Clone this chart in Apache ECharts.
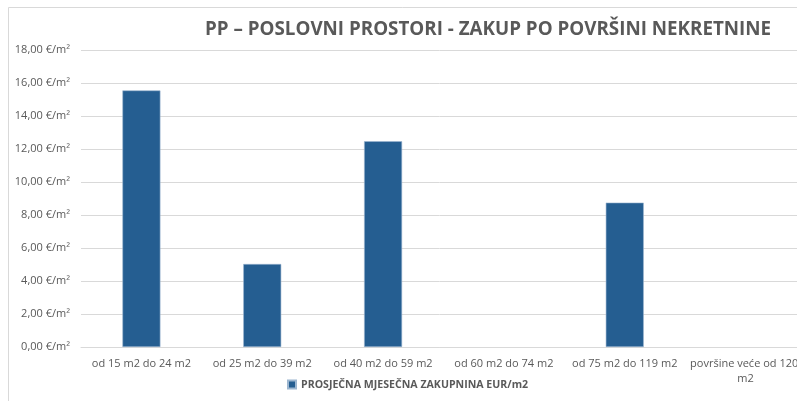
<!DOCTYPE html>
<html><head><meta charset="utf-8">
<script src="https://cdn.jsdelivr.net/npm/echarts@6/dist/echarts.min.js"></script>
<style>html,body{margin:0;padding:0;background:#fff}#c{width:797px;height:401px}</style>
</head><body><div id="c"></div>
<script>
const categories = ['od 15 m2 do 24 m2','od 25 m2 do 39 m2','od 40 m2 do 59 m2','od 60 m2 do 74 m2','od 75 m2 do 119 m2','površine veće od 120 m2'];
const values = [15.55, 5.03, 12.47, null, 8.75, null];
const seriesName = 'PROSJEČNA MJESEČNA ZAKUPNINA EUR/m2';
const titleText = 'PP – POSLOVNI PROSTORI - ZAKUP PO POVRŠINI NEKRETNINE';
const yMin = 0, yMax = 18, yStep = 2;

const chart = echarts.init(document.getElementById('c'), null, {renderer:'canvas'});
chart.setOption({
  animation:false,
  backgroundColor:'#fff',
  textStyle:{fontFamily:'Open Sans'},
  graphic:[{type:'polyline',shape:{points:[[8.5,401],[8.5,7.5],[797,7.5]]},style:{stroke:'#d9d9d9',lineWidth:1,fill:null}}],
  title:{text:titleText,left:200,top:15,textStyle:{fontFamily:'Open Sans',fontWeight:'bold',fontSize:18.8,color:'#595959'}},
  legend:{bottom:6,left:282,itemWidth:8,itemHeight:8,icon:'rect',itemGap:3,
    textStyle:{fontFamily:'Open Sans',fontWeight:'bold',fontSize:10.6,color:'#595959'},data:[seriesName]},
  grid:{left:81,width:725,top:50,bottom:54,containLabel:false,outerBoundsMode:'none'},
  xAxis:{type:'category',data:categories,
    axisLine:{lineStyle:{color:'#d9d9d9'}},axisTick:{show:false},
    axisLabel:{interval:0,color:'#595959',fontSize:11,margin:9,width:135,overflow:'break',lineHeight:15}},
  yAxis:{type:'value',min:yMin,max:yMax,interval:yStep,
    axisLine:{show:false},axisTick:{show:false},
    splitLine:{lineStyle:{color:'#d9d9d9',width:1}},
    axisLabel:{color:'#595959',fontSize:11,margin:11,formatter:v=>v.toFixed(2).replace('.',',')+' €/m²'}},
  series:[{name:seriesName,type:'bar',data:values,barWidth:38,
    itemStyle:{color:'#255e91',borderColor:'#9cb6d0',borderWidth:0.6}}]
});
</script></body></html>
